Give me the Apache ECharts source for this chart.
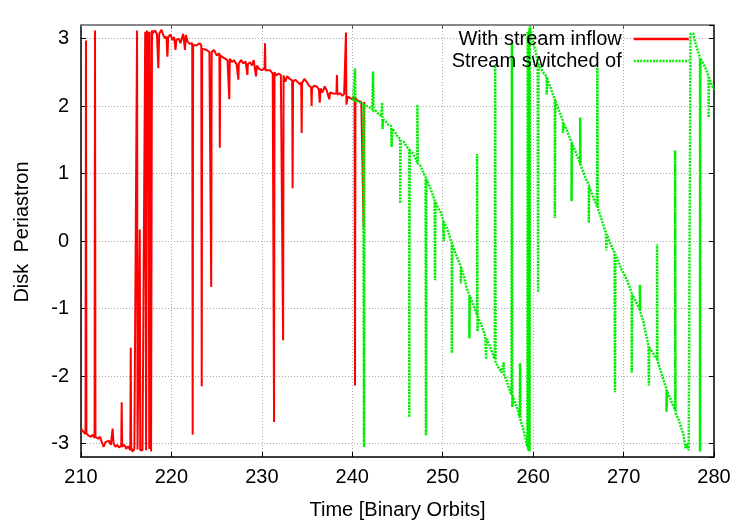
<!DOCTYPE html>
<html>
<head>
<meta charset="utf-8">
<script src="https://cdn.jsdelivr.net/npm/echarts@6/dist/echarts.min.js"></script>
<style>
html,body{margin:0;padding:0;background:#fff;}
#chart{width:750px;height:525px;}
</style>
</head>
<body>
<div id="chart"></div>
<script>
// ---- data ----
var seriesNames = ['With stream inflow', 'Stream switched of'];
var xTicks = [210, 220, 230, 240, 250, 260, 270, 280];
var yTicks = [-3, -2, -1, 0, 1, 2, 3];

var redX = [
  210.0, 210.3, 210.5, 210.55, 210.6, 210.8, 211.1, 211.3, 211.5, 211.55, 211.6, 211.9,
  212.1, 212.3, 212.5, 212.7, 212.9, 213.1, 213.3, 213.5, 213.6, 213.8, 214.0, 214.2,
  214.45, 214.5, 214.55, 214.8, 215.0, 215.2, 215.45, 215.5, 215.55, 215.7, 215.9, 216.1,
  216.2, 216.25, 216.45, 216.5, 216.55, 216.8, 217.0, 217.1, 217.2, 217.3, 217.4, 217.45,
  217.55, 217.6, 217.75, 217.85,
  217.95, 218.2, 218.4, 218.55, 218.65, 218.9, 219.1, 219.3, 219.45, 219.55, 219.65, 219.9,
  220.1, 220.3, 220.45, 220.55, 220.8, 221.0, 221.3, 221.5, 221.6, 221.8, 222.05, 222.3,
  222.35, 222.4, 222.6, 222.8, 223.1, 223.3, 223.35, 223.4, 223.6, 223.9, 224.2, 224.35,
  224.4, 224.45, 224.7, 225.0, 225.3, 225.35, 225.4, 225.7, 225.9, 226.2, 226.4, 226.45,
  226.7, 226.9, 227.2, 227.4, 227.45, 227.7, 227.95, 228.2, 228.4, 228.45, 228.7, 228.9,
  229.1, 229.35, 229.45, 229.7, 230.0, 230.3, 230.35, 230.4, 230.6, 230.9, 231.2, 231.35,
  231.4, 231.6, 231.8, 232.1, 232.3, 232.35, 232.4, 232.6, 232.8, 233.1, 233.35, 233.4,
  233.45, 233.7, 233.9, 234.2, 234.35, 234.4, 234.45, 234.7, 234.95, 235.2, 235.45, 235.5,
  235.55, 235.8, 236.05, 236.3, 236.4, 236.5, 236.7, 236.95, 237.2, 237.45, 237.55, 237.7,
  238.0, 238.25, 238.3, 238.35, 238.65, 238.9, 239.1, 239.3, 239.35, 239.5, 239.75, 240.0,
  240.25, 240.3, 240.35, 240.6, 240.8, 241.0, 241.2, 241.25, 241.3, 241.45
];
var redY = [
  -2.78, -2.83, -2.86, 2.97, -2.85, -2.88, -2.90, -2.87, -2.92, 3.12, -2.90, -2.93,
  -2.90, -2.98, -3.05, -2.98, -3.00, -2.96, -3.02, -2.78, -3.00, -3.05, -3.02, -3.06,
  -3.03, -2.39, -3.05, -3.02, -3.08, -3.04, -3.10, -1.58, -3.06, -3.12, -3.08, -3.10,
  3.12, -3.09, -3.10, 0.17, -3.10, -3.10, -3.09, 3.10, -3.10, 3.12, 1.92, 3.10,
  -3.08, 3.10, -3.12, 3.12,
  3.08, 3.12, 3.06, 2.56, 3.07, 3.13, 3.05, 3.00, 3.03, 2.73, 3.02, 3.06,
  2.98, 3.02, 2.83, 2.98, 3.00, 2.93, 3.07, 2.83, 3.05, 2.95, 2.92, 2.93,
  -2.87, 2.90, 2.92, 2.90, 2.93, 2.90, -2.15, 2.85, 2.83, 2.83, 2.80, 2.82,
  -0.68, 2.80, 2.83, 2.75, 2.78, 1.38, 2.75, 2.72, 2.73, 2.68, 2.10, 2.70,
  2.65, 2.68, 2.62, 2.39, 2.63, 2.68, 2.63, 2.66, 2.46, 2.62, 2.65, 2.60,
  2.68, 2.44, 2.60, 2.55, 2.53, 2.56, 2.93, 2.53, 2.55, 2.53, 2.48, -2.68,
  2.50, 2.45, 2.48, 2.46, 2.48, -1.47, 2.45, 2.36, 2.44, 2.40, 2.38, 0.78,
  2.36, 2.39, 2.38, 2.32, 2.35, 1.60, 2.34, 2.40, 2.36, 2.30, 2.28, 2.00,
  2.27, 2.30, 2.29, 2.25, 2.05, 2.26, 2.20, 2.29, 2.22, 2.10, 2.20, 2.22,
  2.18, 2.19, 2.46, 2.17, 2.19, 2.15, 2.18, 3.09, 2.02, 2.14, 2.12, 2.10,
  2.14, -2.14, 2.12, 2.08, 2.10, 2.06, 2.05, 0.20, 2.05, 2.04
];

var greenX = [
  240.1, 240.25, 240.3, 240.35, 240.6, 240.9, 241.2, 241.3, 241.35, 241.6, 241.9, 242.2,
  242.3, 242.35, 242.6, 242.9, 243.2, 243.3, 243.35, 243.4, 243.7, 244.0, 244.3, 244.35,
  244.4, 244.7, 245.0, 245.3, 245.3, 245.35, 245.7, 246.0, 246.3, 246.3, 246.35, 246.7,
  247.0, 247.2, 247.2, 247.25, 247.5, 247.8, 248.1, 248.15, 248.2, 248.5, 248.8, 249.1,
  249.15, 249.2, 249.5, 249.8, 250.05, 250.1, 250.15, 250.5, 250.8, 251.0, 251.0, 251.05,
  251.4, 251.7, 252.0, 252.0, 252.05, 252.4, 252.7, 252.95, 252.95, 253.0, 253.4, 253.8,
  253.8, 253.85, 253.9, 254.3, 254.7, 254.8, 254.85, 255.2, 255.55, 255.75, 255.8, 255.85,
  256.2, 256.5, 256.7, 256.75, 256.8, 257.1, 257.4, 257.6, 257.65, 257.7, 257.75, 258.0,
  258.3, 258.5, 258.55, 258.6, 258.9, 259.2, 259.35, 259.4, 259.45, 259.55, 259.6, 259.65,
  259.7, 259.9, 260.1, 260.3, 260.5, 260.55, 260.6, 260.9, 261.2, 261.5, 261.5, 261.55,
  261.9, 262.2, 262.4, 262.4, 262.45, 262.8, 263.1, 263.3, 263.3, 263.35, 263.7, 264.0,
  264.25, 264.25, 264.3, 264.6, 264.9, 265.2, 265.2, 265.25, 265.5, 265.8, 266.15, 266.15,
  266.2, 266.5, 266.8, 267.05, 267.1, 267.15, 267.5, 267.8, 268.05, 268.1, 268.15, 268.5,
  268.8, 269.0, 269.05, 269.1, 269.5, 269.8, 270.1, 270.5, 270.9, 270.9, 270.95, 271.3,
  271.6, 271.8, 271.8, 271.85, 272.2, 272.5, 272.75, 272.8, 272.85, 273.2, 273.5, 273.7,
  273.7, 273.75, 274.1, 274.5, 274.75, 274.75, 274.8, 275.2, 275.5, 275.7, 275.7, 275.75,
  276.1, 276.4, 276.6, 276.85, 277.0, 277.2, 277.35, 277.4, 277.7, 278.0, 278.3, 278.45,
  278.45, 278.5, 278.8, 279.1, 279.4, 279.4, 279.45, 279.7, 280.0
];
var greenY = [
  2.08, 2.10, 2.56, 2.06, 2.07, 2.05, 2.03, -3.05, 2.02, 2.00, 1.98, 1.95,
  2.51, 1.92, 1.93, 1.88, 1.85, 2.05, 1.66, 1.80, 1.77, 1.72, 1.70, 1.39,
  1.66, 1.62, 1.55, 1.51, 0.56, 1.48, 1.47, 1.40, 1.36, -2.61, 1.34, 1.30,
  1.22, 1.16, 2.02, 1.15, 1.12, 1.03, 0.95, -2.88, 0.92, 0.82, 0.72, 0.61,
  -0.58, 0.58, 0.49, 0.42, 0.30, 0.00, 0.28, 0.18, 0.05, -0.02, -1.66, -0.05,
  -0.18, -0.28, -0.38, -0.63, -0.40, -0.55, -0.72, -0.80, -1.44, -0.82, -0.95, -1.10,
  1.29, -1.34, -1.13, -1.25, -1.41, -1.75, -1.45, -1.55, -1.68, -1.75, 2.60, -1.80,
  -1.88, -1.95, -1.97, -1.80, -1.98, -2.08, -2.20, -2.28, 2.94, -2.46, -2.30, -2.39,
  -2.50, -2.62, -1.81, -2.65, -2.78, -2.95, -3.05, 3.10, -3.10, 3.15, -3.12, 3.18,
  3.18, 3.00, 2.90, 2.80, 2.65, -0.76, 2.62, 2.55, 2.48, 2.44, 2.17, 2.40,
  2.28, 2.17, 2.10, 0.34, 2.08, 1.95, 1.85, 1.78, 1.60, 1.75, 1.65, 1.55,
  1.46, 0.59, 1.44, 1.35, 1.25, 1.15, 1.83, 1.12, 1.04, 0.93, 0.83, 0.27,
  0.80, 0.70, 0.60, 0.52, 2.57, 0.48, 0.35, 0.22, 0.12, -0.14, 0.10, -0.02,
  -0.12, -0.17, -2.24, -0.20, -0.33, -0.43, -0.50, -0.62, -0.78, -1.95, -0.80, -0.88,
  -0.97, -1.02, -0.65, -1.05, -1.20, -1.40, -1.55, -2.14, -1.58, -1.65, -1.72, -1.75,
  -0.05, -1.78, -1.92, -2.10, -2.19, -2.53, -2.22, -2.35, -2.45, -2.50, 1.34, -2.55,
  -2.65, -2.78, -2.85, -3.07, -3.00, -3.10, -3.12, 3.07, 3.07, 2.90, 2.78, 2.72,
  -3.12, 2.70, 2.63, 2.55, 2.44, 1.83, 2.42, 2.33, 2.24
];

function zip(xs, ys) {
  var out = [];
  for (var i = 0; i < xs.length; i++) out.push([xs[i], ys[i]]);
  return out;
}

var FONT = 'Liberation Sans';
var chart = echarts.init(document.getElementById('chart'), null, {renderer: 'canvas'});

function yLabel(v) {
  return yTicks.indexOf(Math.round(v * 1000) / 1000) >= 0 ? String(Math.round(v)) : '';
}

var gridLine = {show: true, lineStyle: {color: '#aaaaaa', width: 1, type: [1, 2]}};
var legendText = {fontFamily: FONT, fontSize: 20, color: '#000', padding: [0, 7, 0, 0]};

chart.setOption({
  animation: false,
  backgroundColor: '#ffffff',
  textStyle: {fontFamily: FONT},
  grid: {left: 81, right: 36, top: 25, bottom: 63, containLabel: false},
  legend: [
    {
      data: [seriesNames[0]], right: 60, top: 29, align: 'right', padding: 0,
      itemWidth: 55, itemHeight: 14, selectedMode: false,
      itemStyle: {opacity: 0},
      lineStyle: {width: 2.5},
      textStyle: legendText
    },
    {
      data: [seriesNames[1]], right: 60, top: 51, align: 'right', padding: 0,
      itemWidth: 55, itemHeight: 14, selectedMode: false,
      itemStyle: {opacity: 0},
      lineStyle: {width: 2.5},
      textStyle: legendText
    }
  ],
  xAxis: [
    {
      type: 'value', position: 'bottom', min: xTicks[0], max: xTicks[xTicks.length - 1], interval: 10,
      name: 'Time [Binary Orbits]', nameLocation: 'middle', nameGap: 43,
      nameTextStyle: {fontFamily: FONT, fontSize: 20, color: '#000'},
      axisLine: {show: true, onZero: false, lineStyle: {color: '#000', width: 1.5}},
      axisTick: {show: true, inside: true, length: 5, lineStyle: {color: '#000'}},
      axisLabel: {fontFamily: FONT, fontSize: 20, color: '#000', margin: 10},
      splitLine: gridLine
    },
    {
      type: 'value', position: 'top', min: xTicks[0], max: xTicks[xTicks.length - 1], interval: 10,
      axisLine: {show: true, onZero: false, lineStyle: {color: '#888888', width: 2}},
      axisTick: {show: true, inside: true, length: 4, lineStyle: {color: '#555'}},
      axisLabel: {show: false},
      splitLine: {show: false}
    }
  ],
  yAxis: [
    {
      type: 'value', position: 'left', min: -3.2, max: 3.2, splitNumber: 6,
      name: 'Disk  Periastron', nameLocation: 'middle', nameGap: 49,
      nameTextStyle: {fontFamily: FONT, fontSize: 20, color: '#000', padding: [0, 0, 0, 18]},
      axisLine: {show: true, onZero: false, lineStyle: {color: '#000', width: 1.5}},
      axisTick: {show: true, inside: true, length: 5, lineStyle: {color: '#000'}},
      axisLabel: {fontFamily: FONT, fontSize: 20, color: '#000', margin: 12, formatter: yLabel,
                  showMinLabel: false, showMaxLabel: false},
      splitLine: gridLine
    },
    {
      type: 'value', position: 'right', min: -3.2, max: 3.2, splitNumber: 6,
      axisLine: {show: true, onZero: false, lineStyle: {color: '#000', width: 1.5}},
      axisTick: {show: true, inside: true, length: 5, lineStyle: {color: '#000'}},
      axisLabel: {show: false},
      splitLine: {show: false}
    }
  ],
  series: [
    {
      name: seriesNames[0], type: 'line', xAxisIndex: 0, yAxisIndex: 0,
      data: zip(redX, redY), showSymbol: false, symbol: 'none', z: 2,
      lineStyle: {color: '#ff0000', width: 2},
      itemStyle: {color: '#ff0000'}
    },
    {
      name: seriesNames[1], type: 'line', xAxisIndex: 0, yAxisIndex: 0,
      data: zip(greenX, greenY), showSymbol: false, symbol: 'none', z: 3,
      lineStyle: {color: '#00ee00', width: 2.5, type: [2, 1.2]},
      itemStyle: {color: '#00ee00'}
    }
  ]
});
</script>
</body>
</html>
